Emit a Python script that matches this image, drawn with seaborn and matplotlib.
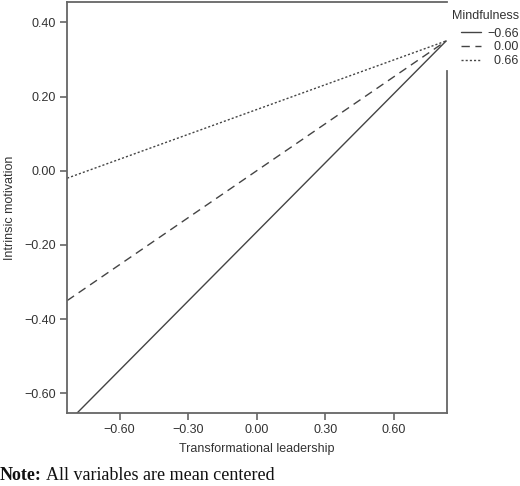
import matplotlib
matplotlib.use("Agg")
import matplotlib.pyplot as plt
import seaborn as sns
import pandas as pd

# Data
x_vals = [-0.83, 0.83]
mindfulness_levels = ["\u22120.66", "  0.00", "  0.66"]
y_low = [-0.68, 0.35]
y_mid = [-0.35, 0.35]
y_high = [-0.02, 0.35]
x_ticks = [-0.60, -0.30, 0.00, 0.30, 0.60]
x_ticklabels = ["\u22120.60", "\u22120.30", "0.00", "0.30", "0.60"]
y_ticks = [-0.60, -0.40, -0.20, 0.00, 0.20, 0.40]
y_ticklabels = ["\u22120.60", "\u22120.40", "\u22120.20", "0.00", "0.20", "0.40"]

rows = []
for lvl, ys in zip(mindfulness_levels, [y_low, y_mid, y_high]):
    for xv, yv in zip(x_vals, ys):
        rows.append({"Transformational leadership": xv, "Intrinsic motivation": yv, "Mindfulness": lvl})
df = pd.DataFrame(rows)

sns.set_style("white")
plt.rcParams["font.family"] = ["Liberation Sans", "DejaVu Sans"]

fig = plt.figure(figsize=(5.2, 4.86), dpi=100)
ax = fig.add_axes([66.7 / 520, 73 / 486, (446.6 - 66.7) / 520, 411 / 486])

txt = "#333333"
sns.lineplot(
    data=df, x="Transformational leadership", y="Intrinsic motivation",
    style="Mindfulness", style_order=mindfulness_levels,
    dashes={mindfulness_levels[0]: "", mindfulness_levels[1]: (6, 4), mindfulness_levels[2]: (1.5, 1.5)},
    color="#444444", linewidth=1.0, ax=ax, legend=True,
)

ax.set_xlim(-0.832, 0.832)
ax.set_ylim(-0.653, 0.455)
ax.set_xticks(x_ticks)
ax.set_xticklabels(x_ticklabels)
ax.set_yticks(y_ticks)
ax.set_yticklabels(y_ticklabels)
ax.tick_params(axis="both", direction="out", length=5, width=1.2, color="#666666",
               labelsize=9, labelcolor=txt, pad=3, left=True, bottom=True)
ax.set_xlabel("Transformational leadership", fontsize=9, color=txt, labelpad=5)
ax.set_ylabel("Intrinsic motivation", fontsize=9, color=txt, labelpad=6)

for s in ax.spines.values():
    s.set_color("#666666")
    s.set_linewidth(1.3)
    s.set_visible(True)
ax.spines["right"].set_bounds(-0.653, 0.27)

leg = ax.legend(title="Mindfulness", loc="upper right", bbox_to_anchor=(519 / 520, 1 - 10 / 486),
                bbox_transform=fig.transFigure, frameon=False, fontsize=9, title_fontsize=9,
                handlelength=1.6, handletextpad=0.5, labelspacing=0.15, borderpad=0.0,
                borderaxespad=0.0, alignment="right")
leg._legend_box.sep = 4
leg.get_title().set_color(txt)
for t in leg.get_texts():
    t.set_color(txt)

fig.text(0.0, 6 / 486, "Note:", fontsize=13, fontweight="bold", family="Liberation Serif",
         color="#111111", va="baseline", ha="left")
fig.text(46 / 520, 6 / 486, "All variables are mean centered", fontsize=13,
         family="Liberation Serif", color="#111111", va="baseline", ha="left")

fig.savefig("out.png", dpi=100)
